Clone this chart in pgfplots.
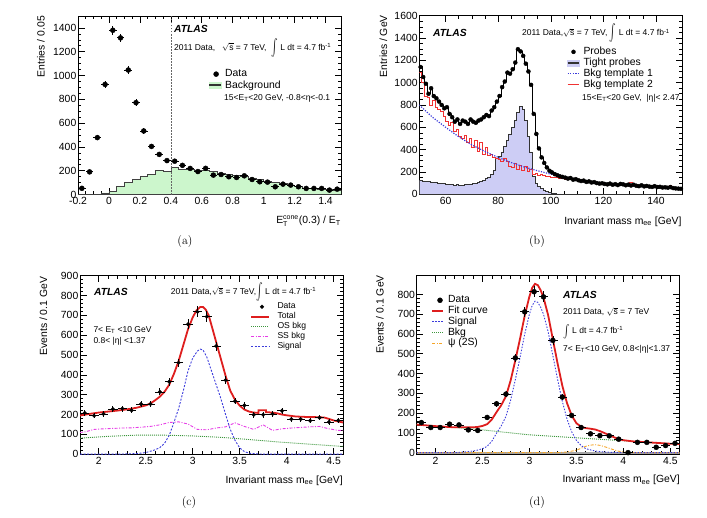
\documentclass[border=0pt]{standalone}
\usepackage{pgfplots}
\pgfplotsset{compat=1.18}
\usepackage{fontspec}
\usepackage{graphicx}
\newfontfamily\arial{Liberation Sans}
\newcommand\tfont{\arial\fontsize{10.4}{12}\selectfont}
\newcommand\sfont{\arial\fontsize{8.5}{10}\selectfont}
\newcommand\lfont{\arial\fontsize{8.6}{10}\selectfont}
\newcommand\atlas{{\arial\fontsize{10.3}{12}\selectfont\bfseries\itshape ATLAS}}
\newcommand\rts{\ensuremath{\sqrt{\mbox{s}}}}
\newcommand\lint{\raisebox{-0.1em}{\scalebox{1}[1.7]{\ensuremath{\int}}}}
\newcommand\lintd{\raisebox{-0.15em}{\scalebox{1}[1.3]{\ensuremath{\int}}}}
\newcommand\ET{E\textsubscript{T}}

\definecolor{bggreen}{RGB}{204,246,204}
\definecolor{lav}{RGB}{205,205,245}
\definecolor{rootred}{RGB}{222,30,30}
\definecolor{tmpred}{RGB}{240,50,50}
\definecolor{rootblue}{RGB}{60,60,220}
\definecolor{rootgreen}{RGB}{60,150,60}
\definecolor{rootmag}{RGB}{230,60,230}
\definecolor{rootorange}{RGB}{245,165,40}

\pgfplotsset{
  atlasaxis/.style={
    scale only axis, width=263pt, height=178.5pt,
    anchor=north west,
    axis line style={line width=0.7pt},
    tick align=inside,
    major tick length=6.5pt, minor tick length=3.3pt,
    every tick/.style={black, line width=0.6pt},
    tick label style={font=\tfont},
    xticklabel style={inner ysep=3pt},
    yticklabel style={inner xsep=1.5pt},
    /pgf/number format/assume math mode=true,
    /pgf/number format/1000 sep={},
    legend style={draw=none, fill=none, inner sep=0pt, anchor=north west, font=\tfont,
      nodes={inner xsep=2.5pt, inner ysep=0pt, text height=7.6pt, text depth=2.2pt}},
    legend cell align=left,
  },
  databars/.style={only marks, mark=*, black,
      error bars/x dir=both, error bars/x explicit,
      error bars/y dir=both, error bars/y explicit,
      error bars/error bar style={line width=0.8pt, black},
      error bars/error mark=none},
}
% invisible frame that fixes the size of each legend symbol
\newcommand\legbox[1]{\path[draw=none, fill=none] (0pt,-3pt) rectangle (#1,3pt);}

\begin{document}
\begin{tikzpicture}
\path[use as bounding box] (0,0) rectangle (707pt,-517pt);

% ---------------- (a) isolation distribution ----------------
\begin{axis}[atlasaxis, at={(78pt,-16pt)},
  xmin=-0.2, xmax=1.5, ymin=0, ymax=1500,
  xtick={-0.2,0,0.2,0.4,0.6,0.8,1,1.2,1.4},
  xticklabels={-0.2,0,0.2,0.4,0.6,0.8,1,1.2,1.4},
  ytick={0,200,400,600,800,1000,1200,1400},
  minor x tick num=3, minor y tick num=3,
  legend style={at={(axis description cs:0.494,0.703)}, row sep=1.5pt}]
\addplot[const plot, fill=bggreen, draw=black!75, line width=0.6pt, forget plot] coordinates {
 (-0.2,0) (-0.15,0) (-0.1,3) (-0.05,14) (0,25) (0.05,65) (0.1,101) (0.15,127)
 (0.2,149) (0.25,171) (0.3,202) (0.35,191) (0.4,228) (0.45,211) (0.5,211) (0.55,200)
 (0.6,205) (0.65,191) (0.7,177) (0.75,171) (0.8,163) (0.85,149) (0.9,140) (0.95,126)
 (1.0,112) (1.05,101) (1.1,93) (1.15,79) (1.2,70) (1.25,56) (1.3,56) (1.35,45)
 (1.4,40) (1.45,36) (1.5,36)} \closedcycle;
\addplot[black!60, line width=0.6pt, dash pattern=on 1.5pt off 1.5pt, forget plot] coordinates {(0.4,0) (0.4,1500)};
\addplot[databars, mark size=2.5pt, forget plot] coordinates {
 (-0.175,52) +- (0.025,7)   (-0.125,190) +- (0.025,14) (-0.075,478) +- (0.025,22)
 (-0.025,925) +- (0.025,30) (0.025,1380) +- (0.025,37) (0.075,1316) +- (0.025,36)
 (0.125,1046) +- (0.025,32) (0.175,772) +- (0.025,28)  (0.225,534) +- (0.025,23)
 (0.275,404) +- (0.025,20)  (0.325,337) +- (0.025,18)  (0.375,285) +- (0.025,17)
 (0.425,280) +- (0.025,17)  (0.475,245) +- (0.025,16)  (0.525,219) +- (0.025,15)
 (0.575,193) +- (0.025,14)  (0.625,220) +- (0.025,15)  (0.675,163) +- (0.025,13)
 (0.725,168) +- (0.025,13)  (0.775,149) +- (0.025,12)  (0.825,143) +- (0.025,12)
 (0.875,157) +- (0.025,12)  (0.925,126) +- (0.025,11)  (0.975,107) +- (0.025,10)
 (1.025,104) +- (0.025,10)  (1.075,65) +- (0.025,8)    (1.125,87) +- (0.025,9)
 (1.175,79) +- (0.025,9)    (1.225,65) +- (0.025,8)    (1.275,51) +- (0.025,7)
 (1.325,51) +- (0.025,7)    (1.375,51) +- (0.025,7)    (1.425,37) +- (0.025,6)
 (1.475,45) +- (0.025,6)};
\addlegendimage{legend image code/.code={\legbox{13.5pt} \fill[black] (7pt,0pt) circle (2.5pt);}}
\addlegendentry{Data}
\addlegendimage{legend image code/.code={\legbox{13.5pt} \fill[bggreen] (0pt,-3pt) rectangle (12pt,3pt); \draw[black!80, line width=2pt] (0pt,0pt) -- (12pt,0pt);}}
\addlegendentry{Background}
\end{axis}

% ---------------- (b) tag-and-probe mass ----------------
\begin{axis}[atlasaxis, at={(419.3pt,-15.7pt)},
  xmin=50, xmax=150, ymin=0, ymax=1600,
  xtick={60,80,100,120,140}, ytick={0,200,400,600,800,1000,1200,1400,1600},
  minor x tick num=3, minor y tick num=3,
  legend style={at={(axis description cs:0.559,0.826)}, row sep=1.1pt}]
\addplot[const plot, fill=lav, draw=black!80, line width=0.6pt, forget plot] coordinates {
 (50,125) (51,120) (52,118) (53,115) (54,110) (55,108) (56,105) (57,100) (58,98) (59,95)
 (60,90) (61,88) (62,85) (63,82) (64,85) (65,82) (66,80) (67,88) (68,85) (69,92)
 (70,95) (71,100) (72,108) (73,115) (74,125) (75,140) (76,155) (77,180) (78,210) (79,320)
 (80,340) (81,380) (82,430) (83,480) (84,540) (85,600) (86,660) (87,730) (88,790) (89,760)
 (90,660) (91,520) (92,380) (93,160) (94,100) (95,70) (96,50) (97,35) (98,25) (99,15)
 (100,10) (101,6) (102,3) (103,2) (104,1) (105,0) (150,0)} \closedcycle;
\addplot[const plot, draw=tmpred, line width=0.9pt, forget plot] coordinates {
 (50,1090) (51,1000) (52,880) (53,870) (54,800) (55,840) (56,780) (57,760) (58,740) (59,700)
 (60,650) (61,620) (62,640) (63,560) (64,580) (65,520) (66,500) (67,530) (68,460) (69,500)
 (70,420) (71,480) (72,380) (73,460) (74,360) (75,420) (76,350) (77,360) (78,330) (79,320)
 (80,310) (81,290) (82,320) (83,290) (84,250) (85,240) (86,280) (87,220) (88,260) (89,210)
 (90,250) (91,200) (92,220) (93,180) (94,190) (95,170) (96,175) (97,165) (98,160) (99,158)
 (100,150) (101,148) (102,150) (103,140) (104,138) (105,135) (106,140) (107,128) (108,130) (109,120)
 (110,125) (111,118) (112,112) (113,115) (114,108) (115,105) (116,102) (117,100) (118,98) (119,95)
 (120,92) (121,96) (122,90) (123,88) (124,92) (125,85) (126,95) (127,88) (128,84) (129,90)
 (130,105) (131,82) (132,80) (133,78) (134,76) (135,74) (136,72) (137,70) (138,74) (139,68)
 (140,66) (141,64) (142,62) (143,60) (144,58) (145,80) (146,56) (147,52) (148,50) (149,48) (150,48)};
\addplot[rootblue, line width=1.2pt, dash pattern=on 1.2pt off 1.4pt, forget plot] coordinates {
 (50,800) (55,690) (60,600) (65,515) (70,442) (75,382) (80,330) (85,283) (90,243) (95,210)
 (100,180) (105,155) (110,133) (115,115) (120,99) (125,88) (130,78) (135,69) (140,61) (145,55) (150,50)};
\addplot[const plot mark mid, black, line width=0.6pt, forget plot] coordinates {
 (50.5,1140) (51.5,1050) (52.5,990) (53.5,900) (54.5,950) (55.5,880) (56.5,860) (57.5,830) (58.5,800) (59.5,770)
 (60.5,780) (61.5,720) (62.5,690) (63.5,650) (64.5,670) (65.5,630) (66.5,660) (67.5,650) (68.5,630) (69.5,670)
 (70.5,650) (71.5,640) (72.5,660) (73.5,670) (74.5,690) (75.5,710) (76.5,700) (77.5,750) (78.5,780) (79.5,830)
 (80.5,880) (81.5,960) (82.5,1010) (83.5,1090) (84.5,1080) (85.5,1120) (86.5,1180) (87.5,1300) (88.5,1280) (89.5,1240)
 (90.5,1170) (91.5,1100) (92.5,980) (93.5,720) (94.5,540) (95.5,410) (96.5,330) (97.5,280) (98.5,240) (99.5,210)
 (100.5,195) (101.5,180) (102.5,170) (103.5,160) (104.5,155) (105.5,148) (106.5,140) (107.5,145) (108.5,130) (109.5,135)
 (110.5,125) (111.5,118) (112.5,122) (113.5,110) (114.5,115) (115.5,105) (116.5,108) (117.5,100) (118.5,95) (119.5,98)
 (120.5,92) (121.5,88) (122.5,95) (123.5,85) (124.5,90) (125.5,82) (126.5,92) (127.5,88) (128.5,80) (129.5,86)
 (130.5,78) (131.5,85) (132.5,76) (133.5,72) (134.5,80) (135.5,70) (136.5,74) (137.5,68) (138.5,65) (139.5,72)
 (140.5,64) (141.5,66) (142.5,60) (143.5,62) (144.5,58) (145.5,64) (146.5,55) (147.5,52) (148.5,50) (149.5,48)};
\addplot[only marks, mark=*, mark size=2pt, black, forget plot] coordinates {
 (50.5,1140) (51.5,1050) (52.5,990) (53.5,900) (54.5,950) (55.5,880) (56.5,860) (57.5,830) (58.5,800) (59.5,770)
 (60.5,780) (61.5,720) (62.5,690) (63.5,650) (64.5,670) (65.5,630) (66.5,660) (67.5,650) (68.5,630) (69.5,670)
 (70.5,650) (71.5,640) (72.5,660) (73.5,670) (74.5,690) (75.5,710) (76.5,700) (77.5,750) (78.5,780) (79.5,830)
 (80.5,880) (81.5,960) (82.5,1010) (83.5,1090) (84.5,1080) (85.5,1120) (86.5,1180) (87.5,1300) (88.5,1280) (89.5,1240)
 (90.5,1170) (91.5,1100) (92.5,980) (93.5,720) (94.5,540) (95.5,410) (96.5,330) (97.5,280) (98.5,240) (99.5,210)
 (100.5,195) (101.5,180) (102.5,170) (103.5,160) (104.5,155) (105.5,148) (106.5,140) (107.5,145) (108.5,130) (109.5,135)
 (110.5,125) (111.5,118) (112.5,122) (113.5,110) (114.5,115) (115.5,105) (116.5,108) (117.5,100) (118.5,95) (119.5,98)
 (120.5,92) (121.5,88) (122.5,95) (123.5,85) (124.5,90) (125.5,82) (126.5,92) (127.5,88) (128.5,80) (129.5,86)
 (130.5,78) (131.5,85) (132.5,76) (133.5,72) (134.5,80) (135.5,70) (136.5,74) (137.5,68) (138.5,65) (139.5,72)
 (140.5,64) (141.5,66) (142.5,60) (143.5,62) (144.5,58) (145.5,64) (146.5,55) (147.5,52) (148.5,50) (149.5,48)};
\addlegendimage{legend image code/.code={\legbox{13.5pt} \fill[black] (6pt,0pt) circle (2pt);}}
\addlegendentry{Probes}
\addlegendimage{legend image code/.code={\legbox{13.5pt} \fill[lav] (0pt,-3pt) rectangle (11.5pt,3pt); \draw[black!80, line width=2pt] (0pt,0pt) -- (11.5pt,0pt);}}
\addlegendentry{Tight probes}
\addlegendimage{legend image code/.code={\legbox{13.5pt} \draw[rootblue, line width=1.3pt, dash pattern=on 1.2pt off 1.4pt] (0pt,0pt) -- (11.5pt,0pt);}}
\addlegendentry{Bkg template 1}
\addlegendimage{legend image code/.code={\legbox{13.5pt} \draw[tmpred, line width=1.8pt] (0pt,0pt) -- (11.5pt,0pt);}}
\addlegendentry{Bkg template 2}
\end{axis}

% ---------------- (c) J/psi fit, OS/SS background ----------------
\begin{axis}[atlasaxis, at={(80pt,-275.7pt)},
  xmin=1.8, xmax=4.6, ymin=0, ymax=900,
  xtick={2,2.5,3,3.5,4,4.5}, ytick={0,100,200,300,400,500,600,700,800,900},
  minor x tick num=4, minor y tick num=4,
  legend style={at={(axis description cs:0.646,0.85)}, row sep=1.8pt, font=\lfont,
    nodes={text height=6.3pt, text depth=1.8pt}}]
\addplot[rootgreen, line width=0.9pt, dash pattern=on 1pt off 1pt, forget plot] coordinates {
 (1.8,81) (2.1,90) (2.4,96) (2.7,96) (3.0,92) (3.3,85) (3.6,74) (3.9,62) (4.2,52) (4.6,39)};
\addplot[rootmag, line width=0.9pt, dash pattern=on 3pt off 1.5pt on 1pt off 1.5pt, forget plot] coordinates {
 (1.8,110) (1.85,112) (1.95,125) (2.05,128) (2.15,130) (2.25,132) (2.35,133) (2.45,136) (2.55,140)
 (2.65,148) (2.75,160) (2.85,163) (2.95,152) (3.05,125) (3.15,123) (3.25,132) (3.35,138) (3.45,158)
 (3.55,140) (3.65,125) (3.75,148) (3.85,120) (3.95,128) (4.05,132) (4.15,135) (4.25,138) (4.35,140)
 (4.45,128) (4.55,120) (4.6,120)};
\addplot[rootblue, line width=0.9pt, dash pattern=on 2pt off 1.5pt, forget plot] coordinates {
 (1.8,0) (2.2,0) (2.4,3) (2.5,8) (2.6,22) (2.65,33) (2.7,55) (2.75,95) (2.8,160) (2.85,230)
 (2.9,320) (2.95,420) (3.0,485) (3.05,520) (3.08,530) (3.11,525) (3.15,490) (3.2,420) (3.25,350)
 (3.3,280) (3.35,200) (3.4,125) (3.45,70) (3.5,32) (3.55,13) (3.6,5) (3.7,1) (3.8,0) (4.6,0)};
\addplot[rootred, line width=1.8pt, forget plot] coordinates {
 (1.8,195) (1.9,203) (2.0,210) (2.1,215) (2.2,220) (2.3,226) (2.4,234) (2.5,246) (2.55,256)
 (2.6,272) (2.65,290) (2.7,315) (2.75,350) (2.8,405) (2.85,470) (2.9,550) (2.95,630) (3.0,690)
 (3.04,725) (3.08,742) (3.11,742) (3.14,728) (3.17,700) (3.2,650) (3.25,565) (3.3,480) (3.35,395)
 (3.4,320) (3.45,275) (3.5,245) (3.55,225) (3.6,215) (3.65,210) (3.7,208) (3.7,222) (3.78,222)
 (3.78,212) (3.85,210) (3.9,206) (3.95,200) (4.0,196) (4.1,190) (4.2,188) (4.3,187) (4.4,185)
 (4.45,178) (4.5,170) (4.6,160)};
\addplot[databars, mark size=1.8pt, forget plot] coordinates {
 (1.85,208) +- (0.05,14) (1.95,194) +- (0.05,14) (2.05,203) +- (0.05,14) (2.15,228) +- (0.05,15)
 (2.25,230) +- (0.05,15) (2.35,221) +- (0.05,15) (2.45,253) +- (0.05,16) (2.55,253) +- (0.05,16)
 (2.65,314) +- (0.05,18) (2.75,365) +- (0.05,19) (2.85,461) +- (0.05,21) (2.95,655) +- (0.05,26)
 (3.05,718) +- (0.05,27) (3.15,694) +- (0.05,26) (3.25,545) +- (0.05,23) (3.35,373) +- (0.05,19)
 (3.45,267) +- (0.05,16) (3.55,246) +- (0.05,16) (3.65,199) +- (0.05,14) (3.75,199) +- (0.05,14)
 (3.85,203) +- (0.05,14) (3.95,219) +- (0.05,15) (4.05,177) +- (0.05,13) (4.15,177) +- (0.05,13)
 (4.25,169) +- (0.05,13) (4.35,184) +- (0.05,14) (4.45,162) +- (0.05,13) (4.55,170) +- (0.05,13)};
\addlegendimage{legend image code/.code={\legbox{24pt} \fill[black] (11pt,0pt) circle (1.9pt);}}
\addlegendentry{Data}
\addlegendimage{legend image code/.code={\legbox{24pt} \draw[rootred, line width=1.8pt] (0pt,0pt) -- (18pt,0pt);}}
\addlegendentry{Total}
\addlegendimage{legend image code/.code={\legbox{24pt} \draw[rootgreen, line width=1pt, dash pattern=on 1pt off 1pt] (0pt,0pt) -- (18pt,0pt);}}
\addlegendentry{OS bkg}
\addlegendimage{legend image code/.code={\legbox{24pt} \draw[rootmag, line width=1pt, dash pattern=on 3pt off 1.5pt on 1pt off 1.5pt] (0pt,0pt) -- (18pt,0pt);}}
\addlegendentry{SS bkg}
\addlegendimage{legend image code/.code={\legbox{24pt} \draw[rootblue, line width=1pt, dash pattern=on 2pt off 1.5pt] (0pt,0pt) -- (18pt,0pt);}}
\addlegendentry{Signal}
\end{axis}

% ---------------- (d) J/psi fit with psi(2S) ----------------
\begin{axis}[atlasaxis, at={(416.7pt,-275.7pt)},
  xmin=1.8, xmax=4.6, ymin=-8, ymax=895,
  xtick={2,2.5,3,3.5,4,4.5}, ytick={0,100,200,300,400,500,600,700,800},
  minor x tick num=4, minor y tick num=4,
  legend style={at={(axis description cs:0.054,0.891)}, row sep=0.95pt}]
\addplot[black!35, line width=2pt, forget plot] coordinates {(1.8,0) (4.6,0)};
\addplot[rootorange, line width=0.9pt, dash pattern=on 3pt off 1.5pt on 1pt off 1.5pt, forget plot] coordinates {
 (1.8,0) (3.3,0) (3.4,3) (3.5,12) (3.55,22) (3.6,32) (3.65,38) (3.7,40) (3.75,37) (3.8,30)
 (3.85,22) (3.9,14) (3.95,7) (4.0,3) (4.1,0) (4.6,0)};
\addplot[rootgreen, line width=0.9pt, dash pattern=on 1pt off 1pt, forget plot] coordinates {
 (1.8,142) (2.0,134) (2.2,127) (2.4,120) (2.6,110) (2.8,100) (3.0,90) (3.2,84) (3.4,78) (3.6,72)
 (3.8,66) (4.0,60) (4.2,54) (4.4,48) (4.6,43)};
\addplot[rootblue, line width=0.9pt, dash pattern=on 1.5pt off 1.5pt, forget plot] coordinates {
 (1.8,0) (2.2,0) (2.3,3) (2.4,8) (2.45,13) (2.5,20) (2.55,32) (2.6,58) (2.65,98) (2.7,135)
 (2.75,183) (2.8,265) (2.85,369) (2.9,480) (2.95,600) (3.0,700) (3.03,745) (3.06,766) (3.09,760)
 (3.12,735) (3.15,700) (3.2,610) (3.25,490) (3.3,370) (3.35,260) (3.4,170) (3.45,105) (3.5,62)
 (3.55,36) (3.6,20) (3.7,8) (3.8,3) (3.9,1) (4.0,0) (4.6,0)};
\addplot[rootred, line width=1.8pt, forget plot] coordinates {
 (1.8,142) (2.0,134) (2.2,128) (2.4,128) (2.45,130) (2.5,135) (2.55,144) (2.6,168) (2.65,205)
 (2.7,240) (2.75,285) (2.8,365) (2.85,467) (2.9,576) (2.95,693) (3.0,790) (3.03,834) (3.06,854)
 (3.09,847) (3.12,821) (3.15,785) (3.2,694) (3.25,572) (3.3,451) (3.35,339) (3.4,251) (3.45,188)
 (3.5,149) (3.55,131) (3.6,124) (3.65,121) (3.7,117) (3.75,109) (3.8,99) (3.85,88) (3.9,78)
 (3.95,68) (4.0,63) (4.1,57) (4.2,54) (4.3,51) (4.4,48) (4.5,45) (4.6,43)};
\addplot[databars, mark size=2.5pt, forget plot] coordinates {
 (1.85,152) +- (0.05,12) (1.95,127) +- (0.05,11) (2.05,127) +- (0.05,11) (2.15,144) +- (0.05,12)
 (2.25,140) +- (0.05,12) (2.35,115) +- (0.05,11) (2.45,112) +- (0.05,11) (2.55,178) +- (0.05,13)
 (2.65,247) +- (0.05,16) (2.75,296) +- (0.05,17) (2.85,479) +- (0.05,22) (2.95,712) +- (0.05,27)
 (3.05,814) +- (0.05,29) (3.15,788) +- (0.05,28) (3.25,568) +- (0.05,24) (3.35,281) +- (0.05,17)
 (3.45,188) +- (0.05,14) (3.55,127) +- (0.05,11) (3.65,95) +- (0.05,10)  (3.75,86) +- (0.05,9)
 (3.85,85) +- (0.05,9)   (3.95,68) +- (0.05,8)   (4.05,0) +- (0.05,0)    (4.15,52) +- (0.05,7)
 (4.25,52) +- (0.05,7)   (4.35,27) +- (0.05,5)   (4.45,36) +- (0.05,6)   (4.55,47) +- (0.05,7)};
\addlegendimage{legend image code/.code={\legbox{13.5pt} \fill[black] (8pt,0pt) circle (2.5pt);}}
\addlegendentry{Data}
\addlegendimage{legend image code/.code={\legbox{13.5pt} \draw[rootred, line width=1.8pt] (0pt,0pt) -- (11pt,0pt);}}
\addlegendentry{Fit curve}
\addlegendimage{legend image code/.code={\legbox{13.5pt} \draw[rootblue, line width=1.2pt, dash pattern=on 1.5pt off 1.5pt] (0pt,0pt) -- (11pt,0pt);}}
\addlegendentry{Signal}
\addlegendimage{legend image code/.code={\legbox{13.5pt} \draw[rootgreen, line width=1.2pt, dash pattern=on 1pt off 1pt] (0pt,0pt) -- (11pt,0pt);}}
\addlegendentry{Bkg}
\addlegendimage{legend image code/.code={\legbox{13.5pt} \draw[rootorange, line width=1.2pt, dash pattern=on 3pt off 1.5pt on 1pt off 1.5pt] (0pt,0pt) -- (11pt,0pt);}}
\addlegendentry{ψ (2S)}
\end{axis}

% ---------------- titles and annotations ----------------
\begin{scope}[every node/.style={inner sep=0pt}]
% (a)
\node[anchor=west] at (174pt,-29pt) {\atlas};
\node[anchor=west, font=\sfont] at (174pt,-47.5pt) {2011 Data,\ \ \ \rts\ = 7 TeV,\ \ \lint\ L dt = 4.7 fb\textsuperscript{-1}};
\node[anchor=west, font=\sfont] at (224pt,-98.3pt) {15<\ET<20 GeV, -0.8<η<-0.1};
\node[rotate=90, anchor=east, font=\tfont] at (41pt,-16pt) {Entries / 0.05};
\node[anchor=base east, font=\tfont] at (341pt,-223.5pt) {E\ensuremath{^{\mbox{\fontsize{7}{8}\selectfont cone}}_{\mbox{\fontsize{7}{8}\selectfont T}}}(0.3) / \ET};
\node[font=\rmfamily\fontsize{12}{14}\selectfont] at (185pt,-241.7pt) {(a)};
% (b)
\node[anchor=west] at (433pt,-33.3pt) {\atlas};
\node[anchor=east, font=\sfont] at (670pt,-33.3pt) {2011 Data,\rts\ = 7 TeV, \lint\ L dt = 4.7 fb\textsuperscript{-1}};
\node[anchor=west, font=\sfont] at (582pt,-98.3pt) {15<\ET<20 GeV,\ \ |η|< 2.47};
\node[rotate=90, anchor=east, font=\tfont] at (383.3pt,-15pt) {Entries / GeV};
\node[anchor=base east, font=\tfont] at (681.7pt,-224pt) {Invariant mass m\textsubscript{ee} [GeV]};
\node[font=\rmfamily\fontsize{12}{14}\selectfont] at (537pt,-241.7pt) {(b)};
% (c)
\node[anchor=west] at (94pt,-291.7pt) {\atlas};
\node[anchor=west, font=\sfont] at (170.7pt,-291.7pt) {2011 Data,\rts\ = 7 TeV,\lint\ L dt = 4.7 fb\textsuperscript{-1}};
\node[anchor=west, font=\sfont] at (93.3pt,-330pt) {7< \ET\ <10 GeV};
\node[anchor=west, font=\sfont] at (93.3pt,-341pt) {0.8< |η| <1.37};
\node[rotate=90, anchor=east, font=\tfont] at (43.3pt,-276.7pt) {Events / 0.1 GeV};
\node[anchor=base east, font=\tfont] at (343pt,-483.3pt) {Invariant mass m\textsubscript{ee} [GeV]};
\node[font=\rmfamily\fontsize{12}{14}\selectfont] at (189pt,-502.3pt) {(c)};
% (d)
\node[anchor=west] at (563pt,-295pt) {\atlas};
\node[anchor=west, font=\sfont] at (563pt,-311.8pt) {2011 Data, \rts\ = 7 TeV};
\node[anchor=west, font=\sfont] at (563pt,-332pt) {\lintd\ L dt = 4.7 fb\textsuperscript{-1}};
\node[anchor=west, font=\sfont] at (563pt,-349.3pt) {7< \ET<10 GeV, 0.8<|η|<1.37};
\node[rotate=90, anchor=east, font=\tfont] at (380pt,-275pt) {Events / 0.1 GeV};
\node[anchor=base east, font=\tfont] at (680pt,-482.7pt) {Invariant mass m\textsubscript{ee} [GeV]};
\node[font=\rmfamily\fontsize{12}{14}\selectfont] at (537pt,-502.3pt) {(d)};
\end{scope}
\end{tikzpicture}
\end{document}
